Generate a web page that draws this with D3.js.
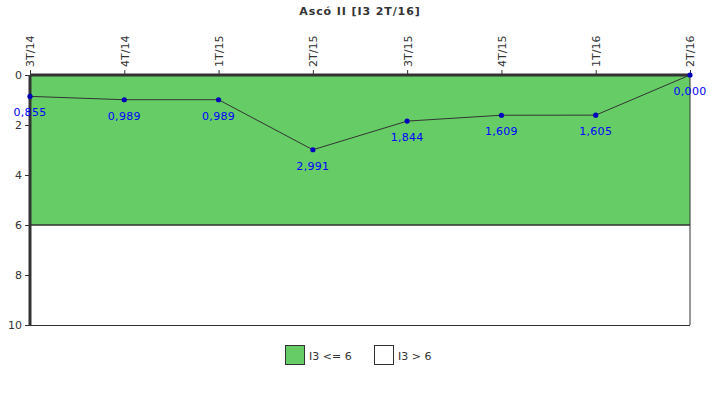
<!DOCTYPE html>
<html><head><meta charset="utf-8">
<script src="https://cdn.jsdelivr.net/npm/d3@7"></script>
<style>body{margin:0;background:#fff}svg{display:block}text{font-family:"DejaVu Sans",Verdana,sans-serif}</style>
</head><body><svg id="c" width="720" height="400"></svg>
<script>
const categories = ["3T/14","4T/14","1T/15","2T/15","3T/15","4T/15","1T/16","2T/16"];
const values = [0.855, 0.989, 0.989, 2.991, 1.844, 1.609, 1.605, 0.000];
const yTicks = [0, 2, 4, 6, 8, 10];
const bands = [{from:0,to:6,color:"#66CC66",label:"I3 <= 6"},{from:6,to:10,color:"#FFFFFF",label:"I3 > 6"}];
const title = "Ascó II [I3 2T/16]";

const svg = d3.select("#c");
const L=30,R=690,T=75,B=325;
const x = d3.scalePoint().domain(categories).range([L,R]);
const y = d3.scaleLinear().domain([0,10]).range([T,B]);
const fmt = v => v.toFixed(3).replace(".", ",");

svg.append("text").attr("x",360).attr("y",15).attr("text-anchor","middle")
  .attr("font-size",11).attr("font-weight","bold").attr("letter-spacing","0.9px").attr("fill","#333").text(title);

bands.forEach(b=>{
  svg.append("rect").attr("x",L).attr("y",y(b.from)).attr("width",R-L).attr("height",y(b.to)-y(b.from))
    .attr("fill",b.color);
});
svg.append("line").attr("x1",L).attr("x2",R).attr("y1",y(6)).attr("y2",y(6)).attr("stroke","#333").attr("stroke-width",1.5);
svg.append("line").attr("x1",R).attr("x2",R).attr("y1",T).attr("y2",B).attr("stroke","#333").attr("stroke-width",1);
svg.append("line").attr("x1",L).attr("x2",R).attr("y1",B+0.5).attr("y2",B+0.5).attr("stroke","#333").attr("stroke-width",1);

// y axis
const ya = svg.append("g").attr("transform",`translate(${L},0)`)
  .call(d3.axisLeft(y).tickValues(yTicks).tickSize(5).tickPadding(3).tickFormat(d3.format("d")));
ya.select(".domain").attr("stroke","#333").attr("stroke-width",3).attr("d",`M0,${T}V${B}`);
ya.selectAll(".tick line").attr("stroke","#333");
ya.selectAll(".tick text").attr("font-size",11).attr("fill","#333").attr("font-family","DejaVu Sans, sans-serif");

// x axis on top
const xa = svg.append("g").attr("transform",`translate(0,${T})`)
  .call(d3.axisTop(x).tickSize(5).tickPadding(3));
xa.select(".domain").attr("stroke","#333").attr("stroke-width",3).attr("d",`M${L},0H${R}`);
xa.selectAll(".tick line").attr("stroke","#333");
xa.selectAll(".tick text").attr("font-size",11).attr("fill","#333").attr("font-family","DejaVu Sans, sans-serif")
  .attr("transform","rotate(-90)").attr("text-anchor","start").attr("x",8).attr("y",0).attr("dy","0.35em");

// line
svg.append("path").datum(values).attr("fill","none").attr("stroke","#333").attr("stroke-width",1)
  .attr("d",d3.line().x((d,i)=>x(categories[i])).y(d=>y(d)));
svg.selectAll("circle.p").data(values).join("circle").attr("class","p")
  .attr("cx",(d,i)=>x(categories[i])).attr("cy",d=>y(d)).attr("r",2.6).attr("fill","#0000BB");
svg.selectAll("text.v").data(values).join("text").attr("class","v")
  .attr("x",(d,i)=>x(categories[i])).attr("y",d=>y(d)+20).attr("text-anchor","middle")
  .attr("font-size",11).attr("letter-spacing","0.3px").attr("fill","#0000FF").text(fmt);

// legend
const lg = [{x:285,b:bands[0]},{x:374,b:bands[1]}];
lg.forEach(l=>{
  svg.append("rect").attr("x",l.x+0.5).attr("y",345.5).attr("width",19).attr("height",19)
    .attr("fill",l.b.color).attr("stroke","#333").attr("stroke-width",1);
  svg.append("text").attr("x",l.x+24).attr("y",359.5).attr("font-size",11).attr("fill","#333").text(l.b.label);
});
</script></body></html>
